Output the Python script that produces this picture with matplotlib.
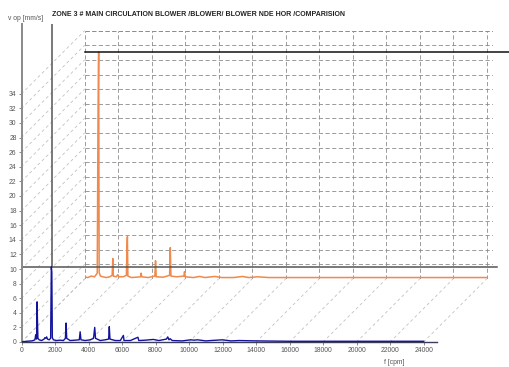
import matplotlib
matplotlib.use("Agg")
import matplotlib.pyplot as plt
from matplotlib.patches import ConnectionPatch
from matplotlib import font_manager

# ---------------- data ----------------
title = "ZONE 3 # MAIN CIRCULATION BLOWER /BLOWER/ BLOWER NDE HOR /COMPARISION"
y_label = "v op [mm/s]"
x_label = "f [cpm]"
x_ticks = list(range(0, 24001, 2000))
y_ticks = list(range(0, 35, 2))

# front spectrum (blue)
blue_freq = [0, 300, 600, 700, 800, 850, 900, 930, 950, 980, 1050, 1200, 1350, 1400, 1450, 1500,
             1550, 1650, 1740, 1780, 1810, 1840, 1900, 2100, 2300, 2500, 2620, 2660, 2700, 2900,
             3200, 3450, 3500, 3550, 3800, 4100, 4300, 4370, 4420, 4700, 5000, 5200, 5240, 5280,
             5600, 5900, 6080, 6120, 6500, 6950, 7000, 7400, 7870, 8200, 8650, 8730, 8800, 8870,
             9000, 9600, 10100, 10300, 10500, 11000, 11300, 12000, 12500, 13000, 14000, 16000, 24000]
blue_amp = [0.0, 0.1, 0.15, 0.2, 0.3, 1.0, 0.4, 5.5, 3.3, 0.5, 0.3, 0.2, 0.4, 0.6, 0.5, 0.7,
            0.4, 0.3, 0.5, 10.3, 9.6, 0.6, 0.3, 0.2, 0.25, 0.2, 0.5, 2.6, 0.5, 0.2,
            0.25, 0.3, 1.4, 0.3, 0.2, 0.3, 0.5, 2.0, 0.5, 0.2, 0.3, 0.4, 2.1, 0.4,
            0.2, 0.2, 0.9, 0.2, 0.2, 0.65, 0.2, 0.25, 0.35, 0.2, 0.4, 0.7, 0.3, 0.45,
            0.2, 0.15, 0.3, 0.25, 0.3, 0.15, 0.2, 0.3, 0.15, 0.2, 0.15, 0.1, 0.1]

# back spectrum (orange)
orange_freq = [0, 200, 400, 600, 760, 810, 845, 875, 950, 1100, 1300, 1500, 1650, 1690, 1720,
               1900, 1990, 2050, 2300, 2500, 2540, 2560, 2590, 2800, 3100, 3350, 3380, 3420,
               3800, 4200, 4240, 4280, 4700, 5080, 5120, 5160, 5500, 5930, 5970, 6010, 6500,
               6870, 7200, 7760, 8200, 8900, 9430, 9800, 10330, 11000, 13000, 15000, 18000, 24000]
orange_amp = [0.3, 0.2, 0.4, 0.3, 0.8, 23.4, 31.1, 0.9, 0.4, 0.3, 0.2, 0.3, 0.5, 2.8, 0.4,
              0.3, 0.6, 0.3, 0.3, 0.5, 4.7, 5.8, 0.4, 0.2, 0.25, 0.3, 0.8, 0.3,
              0.2, 0.4, 2.5, 0.3, 0.25, 0.5, 4.3, 0.4, 0.3, 0.4, 1.0, 0.3, 0.2,
              0.35, 0.2, 0.35, 0.2, 0.2, 0.35, 0.2, 0.3, 0.2, 0.2, 0.2, 0.2, 0.2]

blue_cursor = (1800, 10.3)
orange_cursor = 31.1

# ---------------- layout ----------------
W, H = 509, 367
fig = plt.figure(figsize=(W / 100, H / 100), dpi=100)

def narrow():
    names = {f.name for f in font_manager.fontManager.ttflist}
    for n in ["Liberation Sans Narrow", "DejaVu Sans Condensed"]:
        if n in names:
            return [n, "DejaVu Sans"]
    return ["Liberation Sans", "DejaVu Sans"]

tick_font = narrow()

# front axes
fx0, fx1, fyb, fyt = 21.5, 437.0, 342.0, 24.0
ax = fig.add_axes([fx0 / W, (H - fyb) / H, (fx1 - fx0) / W, (fyb - fyt) / H])
ppu_x = (fx1 - fx0) / 24800.0
ppu_y = 7.3
ax.set_xlim(0, 24800)
ax.set_ylim(0, (fyb - fyt) / ppu_y)

# back axes (offset panel)
dx, dy = 63.0, 63.0
bx0 = fx0 + dx
byb = fyb - dy
bw = 24400 * ppu_x
bh = 34 * ppu_y
ax2 = fig.add_axes([bx0 / W, (H - byb) / H, bw / W, bh / H])
ax2.set_xlim(0, 24400)
ax2.set_ylim(0, 34)
ax2.set_zorder(0)
ax.set_zorder(1)
ax.patch.set_visible(False)

grid_col = "#8c8c8c"
dash = (0, (5, 3))
ax2.set_xticks(x_ticks)
ax2.set_yticks(y_ticks)
ax2.grid(True, color=grid_col, lw=0.6, linestyle=dash)
ax2.tick_params(length=0, labelbottom=False, labelleft=False)
for s in ax2.spines.values():
    s.set_visible(False)
ax2.axvline(24400, color=grid_col, lw=0.6, linestyle=dash)
ax2.axhline(34, color=grid_col, lw=0.6, linestyle=dash)

ax2.plot(orange_freq, orange_amp, color="#ef8a4c", lw=1.1, zorder=3)
ax2.plot([0, 27000], [orange_cursor, orange_cursor], color="#111111", lw=1.1,
         clip_on=False, zorder=4)

# depth (diagonal) lines
diag_col = "#c2c2c2"
for yv in y_ticks:
    cp = ConnectionPatch(xyA=(0, yv), coordsA=ax.transData, xyB=(0, yv), coordsB=ax2.transData,
                         color=diag_col, lw=0.6, linestyle=(0, (3, 4)), zorder=0.5)
    fig.add_artist(cp)
for xv in x_ticks:
    cp = ConnectionPatch(xyA=(xv, 0), coordsA=ax.transData, xyB=(xv, 0), coordsB=ax2.transData,
                         color=diag_col, lw=0.6, linestyle=(0, (3, 4)), zorder=0.5)
    fig.add_artist(cp)

# front spectrum
ax.plot(blue_freq, blue_amp, color="#12129c", lw=1.0, zorder=3)
ax.plot([0, 28400], [blue_cursor[1]] * 2, color="#555555", lw=1.1, clip_on=False, zorder=2)
ax.plot([blue_cursor[0]] * 2, [blue_cursor[1], ax.get_ylim()[1]], color="#555555", lw=1.1,
        zorder=2)

for s in ["top", "right"]:
    ax.spines[s].set_visible(False)
ax.spines["left"].set_color("#8a8a8a")
ax.spines["left"].set_linewidth(1.4)
ax.spines["bottom"].set_color("#3c3c5a")
ax.spines["bottom"].set_linewidth(1.0)
ax.set_xticks(x_ticks)
ax.set_yticks(y_ticks)
ax.tick_params(length=2, width=0.6, color="#777777", labelcolor="#555555", labelsize=4.9, pad=1.5)
for lab in ax.get_xticklabels() + ax.get_yticklabels():
    lab.set_family(tick_font)

fig.text(8 / W, 1 - 18 / H, y_label, fontsize=4.9, color="#555555", family=tick_font,
         va="center", ha="left")
fig.text(394 / W, 1 - 362 / H, x_label, fontsize=4.9, color="#555555", family=tick_font,
         va="center", ha="center")
fig.text(52 / W, 1 - 14 / H, title, fontsize=5.0, fontweight="bold", color="#222222",
         family=["Liberation Sans", "DejaVu Sans"], va="center", ha="left")

fig.savefig("out.png", dpi=100)
